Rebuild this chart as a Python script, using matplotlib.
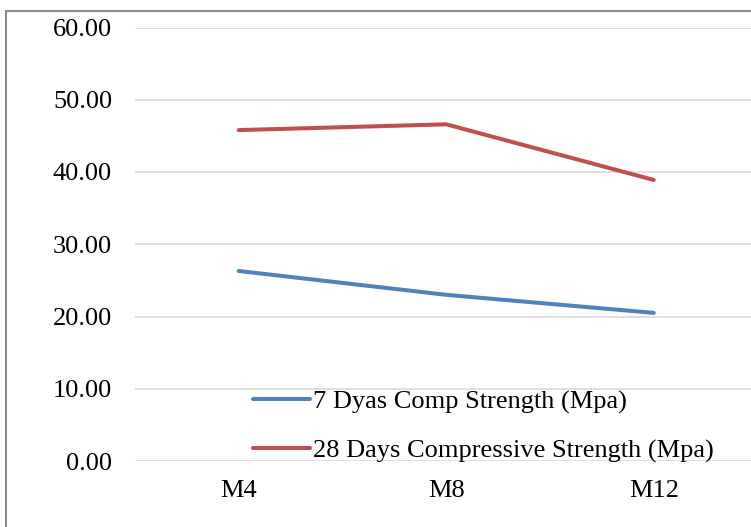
import matplotlib

matplotlib.use("Agg")
import matplotlib.pyplot as plt
from matplotlib.patches import Rectangle

categories = ["M4", "M8", "M12"]
strength_7d = [26.3, 23.0, 20.5]
strength_28d = [45.8, 46.6, 38.9]
y_ticks = [0, 10, 20, 30, 40, 50, 60]

BLUE = "#4F81BD"
RED = "#C0504D"
GRID = "#D9D9D9"
FS = 19

plt.rcParams["font.family"] = ["Liberation Serif", "DejaVu Serif"]
W, H = 751, 527
fig = plt.figure(figsize=(W / 100, H / 100), dpi=100, facecolor="white")

# outer chart border (cropped on right and bottom, like the source)
fig.patches.append(Rectangle((6 / W, -0.1), 1.2, 1 - 11 / H + 0.1,
                             transform=fig.transFigure, fill=False,
                             edgecolor="#8C8C8C", lw=1.5))

ax = fig.add_axes([135 / W, 1 - 461 / H, 622.5 / W, (461 - 27.5) / H])
x = range(len(categories))
ax.plot(x, strength_7d, color=BLUE, lw=2.9, solid_capstyle="round",
        label="7 Dyas Comp Strength (Mpa)")
ax.plot(x, strength_28d, color=RED, lw=2.9, solid_capstyle="round",
        label="28 Days Compressive Strength (Mpa)")

ax.set_xlim(-0.5, len(categories) - 0.5)
ax.set_ylim(0, 60)
ax.set_yticks(y_ticks)
ax.set_yticklabels([f"{v:.2f}" for v in y_ticks])
ax.set_xticks(list(x))
ax.set_xticklabels(categories)
ax.grid(axis="y", color=GRID, lw=1.2)
ax.set_axisbelow(True)
for sp in ax.spines.values():
    sp.set_visible(False)
ax.tick_params(length=0, labelsize=FS, colors="black")
ax.tick_params(axis="y", pad=16.5)
ax.tick_params(axis="x", pad=14)

ax.legend(loc="upper left", bbox_to_anchor=(240 / W, 1 - 377 / H),
          bbox_transform=fig.transFigure, frameon=False, fontsize=FS,
          handlelength=2.15, handletextpad=0.1, labelspacing=0.95,
          borderpad=0)

fig.savefig("out.png", dpi=100, facecolor="white")
